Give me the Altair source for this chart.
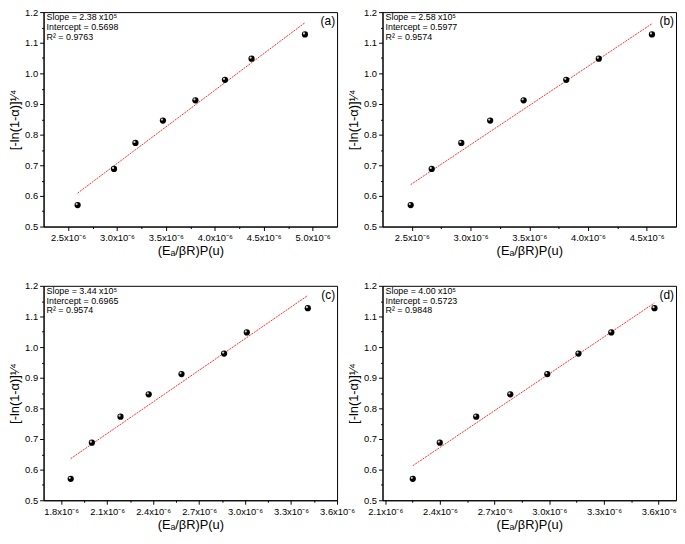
import altair as alt
import pandas as pd

# ---- data (x in units of 1e-6) ----
Y_VALS = [0.570, 0.688, 0.773, 0.846, 0.912, 0.979, 1.048, 1.127]
XA = [2.598, 2.970, 3.189, 3.470, 3.802, 4.104, 4.376, 4.922]
XB = [2.490, 2.669, 2.921, 3.167, 3.452, 3.815, 4.092, 4.545]
XC = [1.862, 2.000, 2.187, 2.371, 2.585, 2.863, 3.011, 3.409]
XD = [2.251, 2.399, 2.599, 2.786, 2.989, 3.160, 3.340, 3.577]

DOM_A = [2.25, 5.25]
DOM_B = [2.25, 4.75]
DOM_C = [1.685, 3.6]
DOM_D = [2.085, 3.695]

MAJ_A = [2.5, 3.0, 3.5, 4.0, 4.5, 5.0]
MIN_A = [2.75, 3.25, 3.75, 4.25, 4.75]
MAJ_B = [2.5, 3.0, 3.5, 4.0, 4.5]
MIN_B = [2.75, 3.25, 3.75, 4.25]
MAJ_C = [1.8, 2.1, 2.4, 2.7, 3.0, 3.3, 3.6]
MIN_C = [1.95, 2.25, 2.55, 2.85, 3.15, 3.45]
MAJ_D = [2.1, 2.4, 2.7, 3.0, 3.3, 3.6]
MIN_D = [2.25, 2.55, 2.85, 3.15, 3.45]

Y_MAJ = [0.5, 0.6, 0.7, 0.8, 0.9, 1.0, 1.1, 1.2]
Y_MIN = [0.55, 0.65, 0.75, 0.85, 0.95, 1.05, 1.15]

STATS = {
    "a": ["Slope = 2.38 x10\u2075", "Intercept = 0.5698", "R\u00b2 = 0.9763"],
    "b": ["Slope = 2.58 x10\u2075", "Intercept = 0.5977", "R\u00b2 = 0.9574"],
    "c": ["Slope = 3.44 x10\u2075", "Intercept = 0.6965", "R\u00b2 = 0.9574"],
    "d": ["Slope = 4.00 x10\u2075", "Intercept = 0.5723", "R\u00b2 = 0.9848"],
}

FONT = "Liberation Sans, Arial, sans-serif"
W, H = 297, 217
X_TITLE = "(E\u2090/\u03b2R)P(u)"
Y_TITLE = "[-ln(1-\u03b1)]\u00b9\u2044\u2074"


def panel(xs, dom, maj, mnr, tag):
    df = pd.DataFrame({"x": xs, "y": Y_VALS})
    xs_ = alt.Scale(domain=dom, nice=False, zero=False)
    ys_ = alt.Scale(domain=[0.5, 1.2], nice=False, zero=False)
    base = alt.Chart(df)

    pts = base.mark_circle(size=40, color="black", opacity=1).encode(
        x=alt.X("x:Q", scale=xs_, axis=alt.Axis(
            values=maj, orient="bottom", title=X_TITLE, labelOverlap=False,
            labelFlush=False,
            labelExpr="format(datum.value, '.1f') + 'x10\u207b\u2076'",
            titlePadding=3)),
        y=alt.Y("y:Q", scale=ys_, axis=alt.Axis(
            values=Y_MAJ, orient="left", format=".1f", title=Y_TITLE,
            labelOverlap=False, labelFlush=False, titlePadding=3)),
    )
    minor = base.mark_point(opacity=0).encode(
        x=alt.X("x:Q", scale=xs_, axis=alt.Axis(
            values=mnr, orient="bottom", labels=False, domain=False,
            tickSize=2, title=None)),
        y=alt.Y("y:Q", scale=ys_, axis=alt.Axis(
            values=Y_MIN, orient="left", labels=False, domain=False,
            tickSize=2, title=None)),
    )
    hi = base.mark_circle(size=5, color="#d0d0d0", opacity=1,
                          xOffset=-1, yOffset=-1).encode(
        x=alt.X("x:Q", scale=xs_, axis=None),
        y=alt.Y("y:Q", scale=ys_, axis=None),
    )
    fit = base.transform_regression("x", "y").mark_line(
        color="#ff2a2a", strokeWidth=1, strokeDash=[2, 1]).encode(
        x=alt.X("x:Q", scale=xs_, axis=None),
        y=alt.Y("y:Q", scale=ys_, axis=None),
    )
    txt = alt.Chart(pd.DataFrame({"t": ["\n".join(STATS[tag])]})).mark_text(
        align="left", baseline="top", fontSize=9, lineBreak="\n",
        lineHeight=10, font=FONT, color="black").encode(
        text="t:N", x=alt.value(3), y=alt.value(1))
    lab = alt.Chart(pd.DataFrame({"t": ["(" + tag + ")"]})).mark_text(
        align="right", baseline="middle", fontSize=12, font=FONT,
        color="black").encode(text="t:N", x=alt.value(W - 2), y=alt.value(9))

    return alt.layer(fit, pts, hi, minor, txt, lab).resolve_axis(
        x="independent", y="independent").properties(width=W, height=H)


pa = panel(XA, DOM_A, MAJ_A, MIN_A, "a")
pb = panel(XB, DOM_B, MAJ_B, MIN_B, "b")
pc = panel(XC, DOM_C, MAJ_C, MIN_C, "c")
pd_ = panel(XD, DOM_D, MAJ_D, MIN_D, "d")

chart = alt.concat(
    pa, pb, pc, pd_, columns=2, bounds="flush",
    spacing={"row": 60, "column": 46},
).properties(
    padding={"left": 0, "top": -5, "right": 0, "bottom": 0}
).configure_view(stroke="black", strokeWidth=1).configure_axis(
    grid=False, domainColor="black", tickColor="black", labelColor="black",
    titleColor="black", labelFont=FONT, titleFont=FONT, labelFontSize=9.5,
    titleFontSize=13, titleFontWeight="normal", tickSize=4, labelPadding=2,
    domainWidth=1, tickWidth=1,
)

chart.save("out.html", embed_options={"renderer": "svg", "actions": False})
